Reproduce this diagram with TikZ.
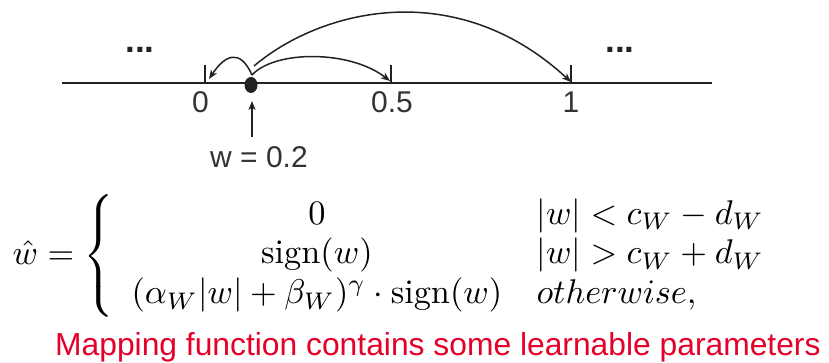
\documentclass[tikz,border=0pt]{standalone}
\usepackage{fontspec}
\usepackage{amsmath}
\usetikzlibrary{arrows.meta,shapes.geometric}
\newfontfamily\labfont{Liberation Sans}
\definecolor{ink}{HTML}{222222}
\definecolor{labgray}{HTML}{333333}
\definecolor{mapred}{RGB}{228,0,40}
\begin{document}
\begin{tikzpicture}[x=1pt,y=-1pt,
  axisline/.style={draw=ink,line width=2pt},
  tickmark/.style={draw=ink,line width=1.4pt},
  jump/.style={draw=ink,line width=1.5pt,-{Stealth[length=9pt,width=7pt,inset=2.5pt]}},
  numlabel/.style={text=labgray,font=\labfont\fontsize{30}{34}\selectfont,inner sep=0pt},
  ellip/.style={text=ink,font=\labfont\bfseries\fontsize{35}{38}\selectfont,inner sep=0pt,anchor=base},
]
\useasboundingbox (0,0) rectangle (829,363);
% axis
\coordinate (L) at (62,83);
\coordinate (R) at (712,83);
\draw[axisline] (L) -- (R);
% ticks
\coordinate (t0) at (205,83);
\coordinate (t0top) at (205,65);
\coordinate (t5) at (391,83);
\coordinate (t5top) at (391,65);
\coordinate (t1) at (571,83);
\coordinate (t1top) at (571,65);
\draw[tickmark] (t0) -- (t0top);
\draw[tickmark] (t5) -- (t5top);
\draw[tickmark] (t1) -- (t1top);
% labels
\node[numlabel] (l0) at (200.5,102.5) {0};
\node[numlabel] (l5) at (392,102.5) {0.5};
\node[numlabel] (l1) at (571,102.5) {1};
% dots
\node[ellip] (dl) at (140,52.5) {...};
\node[ellip] (dr) at (620,52.5) {...};
% point
\node[fill=ink,ellipse,minimum width=13pt,minimum height=16pt,inner sep=0pt] (pt) at (251,85) {};
% arcs
\coordinate (bigstart) at (254,66);
\coordinate (tip1) at (571,82);
\coordinate (tip5) at (390,81);
\coordinate (tip0) at (209,79);
\coordinate (dtop) at (252,75);
\draw[jump] (bigstart) .. controls (320,10) and (455,-25) .. (tip1);
\draw[jump] (dtop) .. controls (275,50) and (350,50) .. (tip5);
\draw[jump] (dtop) .. controls (240,48) and (225,55) .. (tip0);
% w label
\node[numlabel] (wl) at (259,157) {w = 0.2};
\coordinate (wtop) at (252,137);
\coordinate (wtip) at (252,101);
\draw[jump] (wtop) -- (wtip);
% equation
\node[anchor=west,scale=3.43,inner sep=0pt] (eq) at (12,256) {$\hat{w} = \left\{ \renewcommand{\arraystretch}{0.97}\begin{array}{cl} 0 & |w| < c_W - d_W \\ \mathrm{sign}(w) & |w| > c_W + d_W \\ (\alpha_W|w| + \beta_W)^\gamma \cdot \mathrm{sign}(w) & otherwise, \end{array}\right.$};
% caption
\node[anchor=base west,text=mapred,font=\labfont\fontsize{31.8}{36}\selectfont,inner sep=0pt] (cap) at (55,355) {Mapping function contains some learnable parameters};
\end{tikzpicture}
\end{document}
